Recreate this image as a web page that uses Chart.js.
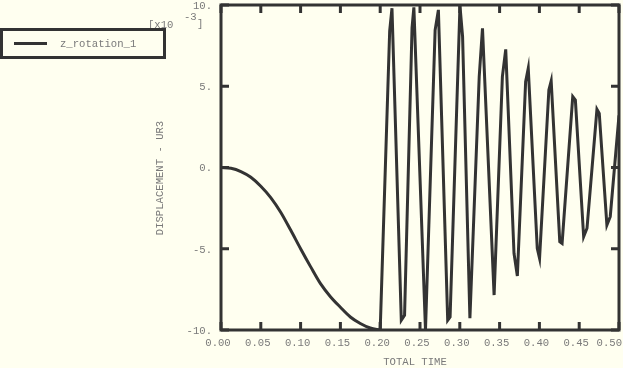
<!DOCTYPE html>
<html>
<head>
<meta charset="utf-8">
<script src="https://cdn.jsdelivr.net/npm/chart.js@4.4.1/dist/chart.umd.min.js"></script>
<style>
  html, body { margin: 0; padding: 0; background: #fffff0; }
  #wrap { width: 623px; height: 368px; }
</style>
</head>
<body>
<div id="wrap"><canvas id="chart"></canvas></div>
<script>
const xTicks = [0, 0.05, 0.10, 0.15, 0.20, 0.25, 0.30, 0.35, 0.40, 0.45, 0.50];
const xTickLabels = ['0.00', '0.05', '0.10', '0.15', '0.20', '0.25', '0.30', '0.35', '0.40', '0.45', '0.50'];
const yTicks = [-10, -5, 0, 5, 10];
const yTickLabels = ['-10.', '-5.', '0.', '5.', '10.'];

// smooth drop, 0 -> 0.2 s
const rampTime = [0, 0.0125, 0.025, 0.0375, 0.05, 0.0625, 0.075, 0.0875, 0.1, 0.1125, 0.125, 0.1375, 0.15, 0.1625, 0.175, 0.1875, 0.2];
const rampValue = [0, -0.05, -0.25, -0.6, -1.15, -1.85, -2.75, -3.85, -5.0, -6.1, -7.15, -7.95, -8.6, -9.2, -9.6, -9.88, -10];

// oscillation, 0.2 -> 0.5 s
const oscTime = [0.2000, 0.2119, 0.2148, 0.2265, 0.2306, 0.2400, 0.2423, 0.2569, 0.2690, 0.2731,
  0.2848, 0.2878, 0.3002, 0.3035, 0.3127, 0.3244, 0.3285, 0.3431, 0.3535, 0.3577,
  0.3681, 0.3723, 0.3827, 0.3860, 0.3973, 0.4002, 0.4119, 0.4148, 0.4256, 0.4285,
  0.4419, 0.4452, 0.4556, 0.4598, 0.4723, 0.4752, 0.4848, 0.4890, 0.5000];
const oscValue = [-10, 8.4, 9.8, -9.4, -9.1, 8.6, 9.86, -10, 8.46, 9.7,
  -9.4, -9.2, 9.94, 8.05, -9.28, 5.6, 8.57, -7.85, 5.6, 7.27,
  -5.28, -6.68, 5.28, 6.1, -4.97, -5.59, 4.77, 5.32, -4.57, -4.67,
  4.36, 4.15, -4.26, -3.74, 3.58, 3.33, -3.54, -3.03, 3.2];

const seriesName = 'z_rotation_1';
const INK = '#333333';
const TEXT = '#7a7a7a';
const FONT = '10.6px "Liberation Mono", monospace';

const toPoints = (ts, vs) => ts.map((t, i) => ({ x: t, y: vs[i] }));

// frame, inward ticks, labels, legend box
const decor = {
  id: 'decor',
  afterDatasetsDraw(chart) {
    const { ctx, chartArea: a, scales: { x, y } } = chart;
    ctx.save();
    ctx.strokeStyle = INK;
    ctx.lineWidth = 3;
    ctx.strokeRect(a.left, a.top, a.right - a.left, a.bottom - a.top);

    ctx.beginPath();
    xTicks.forEach(v => {
      const px = x.getPixelForValue(v);
      ctx.moveTo(px, a.bottom); ctx.lineTo(px, a.bottom - 8);
      ctx.moveTo(px, a.top); ctx.lineTo(px, a.top + 8);
    });
    yTicks.forEach(v => {
      const py = y.getPixelForValue(v);
      ctx.moveTo(a.left, py); ctx.lineTo(a.left + 8, py);
      ctx.moveTo(a.right, py); ctx.lineTo(a.right - 8, py);
    });
    ctx.stroke();

    ctx.fillStyle = TEXT;
    ctx.font = FONT;
    ctx.textBaseline = 'middle';
    xTicks.forEach((v, i) => {
      const w = ctx.measureText(xTickLabels[i]).width;
      let left = x.getPixelForValue(v) - 3 - w / 2;
      if (left + w > chart.width - 1) left = chart.width - 1 - w;
      ctx.textAlign = 'left';
      ctx.fillText(xTickLabels[i], left, a.bottom + 13);
    });
    ctx.textAlign = 'right';
    yTicks.forEach((v, i) => {
      ctx.fillText(yTickLabels[i], a.left - 9, y.getPixelForValue(v) + 1);
    });

    ctx.textAlign = 'center';
    ctx.fillText('TOTAL TIME', (a.left + a.right) / 2 - 5, a.bottom + 32);

    ctx.save();
    ctx.translate(160, 178);
    ctx.rotate(-Math.PI / 2);
    ctx.fillText('DISPLACEMENT - UR3', 0, 0);
    ctx.restore();

    ctx.textAlign = 'left';
    ctx.fillText('[x10', 148, 25);
    ctx.fillText('-3', 184, 17);
    ctx.fillText(']', 197, 24);

    // legend
    ctx.strokeStyle = INK;
    ctx.lineWidth = 3;
    ctx.strokeRect(1.5, 29.5, 163, 28);
    ctx.beginPath();
    ctx.moveTo(14, 43.5); ctx.lineTo(47, 43.5);
    ctx.stroke();
    ctx.fillText(seriesName, 60, 44);
    ctx.restore();
  }
};

new Chart(document.getElementById('chart'), {
  type: 'line',
  data: {
    datasets: [
      {
        label: seriesName,
        data: toPoints(rampTime, rampValue),
        borderColor: INK,
        borderWidth: 3,
        pointRadius: 0,
        cubicInterpolationMode: 'monotone',
        fill: false
      },
      {
        label: seriesName,
        data: toPoints(oscTime, oscValue),
        borderColor: INK,
        borderWidth: 3,
        pointRadius: 0,
        tension: 0,
        fill: false,
        borderJoinStyle: 'miter'
      }
    ]
  },
  options: {
    responsive: true,
    maintainAspectRatio: false,
    animation: false,
    events: [],
    layout: { padding: { left: 221, right: 4, top: 5, bottom: 38 } },
    plugins: { legend: { display: false }, tooltip: { enabled: false } },
    scales: {
      x: { type: 'linear', min: 0, max: 0.5, display: false },
      y: { type: 'linear', min: -10, max: 10, display: false }
    }
  },
  plugins: [decor]
});
</script>
</body>
</html>
